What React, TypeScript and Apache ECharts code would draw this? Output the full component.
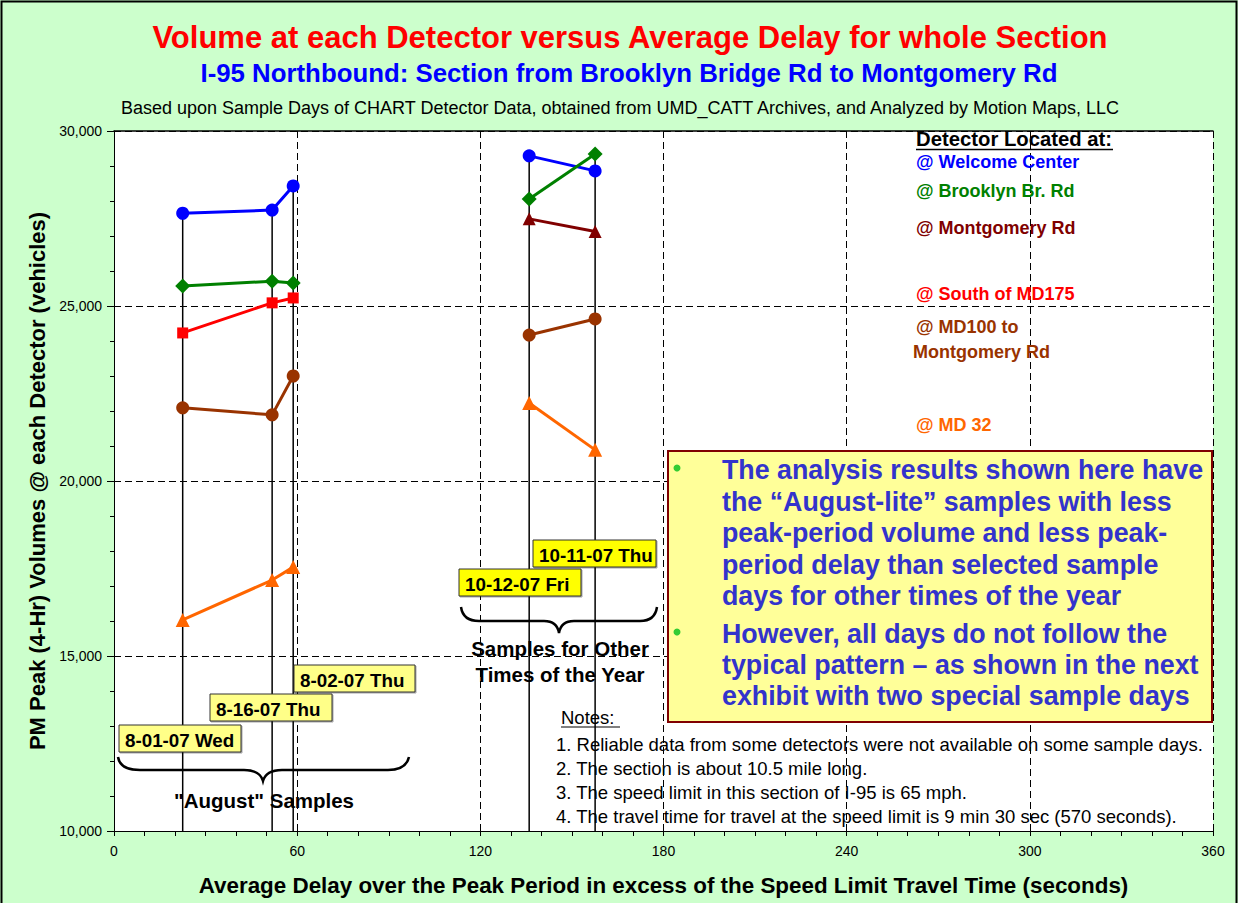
import React, { useEffect, useRef } from "react";
import * as echarts from "echarts";

const FONT = '"Liberation Sans", Arial, Helvetica, sans-serif';

// Sample days (x = average delay in seconds)
const sampleDays = ["8-01-07 Wed", "8-16-07 Thu", "8-02-07 Thu", "10-12-07 Fri", "10-11-07 Thu"];
const delays = [22.5, 51.8, 58.7, 136.0, 157.6];
const augustIdx = [0, 1, 2];
const otherIdx = [3, 4];

// Volumes at each detector (vehicles); null = not available
const welcomeCenter = [27650, 27740, 28430, 29290, 28860];
const brooklynBrRd = [25570, 25710, 25660, 28060, 29340];
const montgomeryRd = [null, null, null, 27490, 27130];
const southMD175 = [24230, 25090, 25230, null, null];
const md100ToMontgomery = [22090, 21890, 23000, 24170, 24630];
const md32 = [16030, 17170, 17540, 22230, 20890];

const xTicks = { min: 0, max: 360, interval: 60 };
const yTicks = { min: 10000, max: 30000, interval: 5000 };

const detectors = [
  { name: "@ Welcome Center", values: welcomeCenter, color: "#0000FF", symbol: "circle", size: 13 },
  { name: "@ Brooklyn Br. Rd", values: brooklynBrRd, color: "#008000", symbol: "diamond", size: 15 },
  { name: "@ Montgomery Rd", values: montgomeryRd, color: "#800000", symbol: "triangle", size: 13 },
  { name: "@ South of MD175", values: southMD175, color: "#FF0000", symbol: "rect", size: 11 },
  { name: "@ MD100 to Montgomery Rd", values: md100ToMontgomery, color: "#993300", symbol: "circle", size: 13 },
  { name: "@ MD 32", values: md32, color: "#FF6600", symbol: "triangle", size: 14 },
];

const legendLines = [
  { text: "@ Welcome Center", color: "#0000FF", x: 916, y: 162 },
  { text: "@ Brooklyn Br. Rd", color: "#008000", x: 916, y: 191 },
  { text: "@ Montgomery Rd", color: "#800000", x: 916, y: 228 },
  { text: "@ South of MD175", color: "#FF0000", x: 916, y: 294 },
  { text: "@ MD100 to", color: "#993300", x: 916, y: 327 },
  { text: "Montgomery Rd", color: "#993300", x: 913, y: 352 },
  { text: "@ MD 32", color: "#FF6600", x: 916, y: 425 },
];

const boxBullets = [
  ["The analysis results shown here have", "the \u201CAugust-lite\u201D samples with less", "peak-period volume and less peak-", "period delay than selected sample", "days for other times of the year"],
  ["However, all days do not follow the", "typical pattern \u2013 as shown in the next", "exhibit with two special sample days"],
];

const notes = [
  "1. Reliable data from some detectors were not available on some sample days.",
  "2. The section is about 10.5 mile long.",
  "3. The speed limit in this section of I-95 is 65 mph.",
  "4. The travel time for travel at the speed limit is 9 min 30 sec (570 seconds).",
];

const dateBoxes = [
  { label: sampleDays[0], x: 119, y: 725, w: 122, fill: "#FFFF88" },
  { label: sampleDays[1], x: 210, y: 694, w: 122, fill: "#FFFF88" },
  { label: sampleDays[2], x: 294, y: 665, w: 121, fill: "#FFFF88" },
  { label: sampleDays[3], x: 459, y: 569, w: 122, fill: "#FFFF00" },
  { label: sampleDays[4], x: 533, y: 540, w: 123, fill: "#FFFF00" },
];

let registered = false;
function registerShapes() {
  if (registered) return;
  registered = true;
  echarts.graphic.registerShape(
    "braceAug",
    echarts.graphic.extendPath("M118 757 Q120 770 140 770 L244 770 Q260 770 263 781 Q266 770 282 770 L388 770 Q406 770 409 757", {}) as any
  );
  echarts.graphic.registerShape(
    "braceOther",
    echarts.graphic.extendPath("M461 607 Q463 621 479 621 L544 621 Q557 621 559 633 Q561 621 574 621 L640 621 Q655 621 657 607", {}) as any
  );
}

function txt(text: string, x: number, y: number, size: number, color: string, bold: boolean, align = "left") {
  return {
    type: "text",
    x,
    y,
    z: 20,
    style: {
      text,
      fill: color,
      fontSize: size,
      fontWeight: bold ? "bold" : "normal",
      fontFamily: FONT,
      align,
      verticalAlign: "middle",
    },
  };
}

export default function App() {
  const ref = useRef<HTMLDivElement>(null);

  useEffect(() => {
    if (!ref.current) return;
    registerShapes();
    const chart = echarts.init(ref.current, null, { renderer: "svg" });

    const series: any[] = [];
    // vertical drop lines for each sample day
    delays.forEach((d, i) => {
      const vals = detectors.map((det) => det.values[i]).filter((v) => v != null) as number[];
      const top = Math.max(...vals);
      series.push({
        type: "line",
        name: sampleDays[i],
        data: [
          [d, top],
          [d, yTicks.min],
        ],
        symbol: "none",
        silent: true,
        lineStyle: { color: "#000", width: 1.5 },
        z: 1,
      });
    });

    detectors.forEach((det) => {
      [augustIdx, otherIdx].forEach((group) => {
        const data = group.filter((i) => det.values[i] != null).map((i) => [delays[i], det.values[i]]);
        if (!data.length) return;
        series.push({
          type: "line",
          name: det.name,
          data,
          symbol: det.symbol,
          symbolSize: det.size,
          itemStyle: { color: det.color },
          lineStyle: { color: det.color, width: 3 },
          z: 3,
        });
      });
    });

    const graphic: any[] = [
      {
        type: "rect",
        shape: { x: 1.5, y: 1.5, width: 1235, height: 905 },
        style: { fill: "none", stroke: "#000", lineWidth: 2 },
        z: 30,
      },
      txt("Volume at each Detector versus Average Delay for whole Section", 630, 37, 31, "#FF0000", true, "center"),
      txt("I-95 Northbound: Section from Brooklyn Bridge Rd to Montgomery Rd", 629, 73, 25.8, "#0000FF", true, "center"),
      txt("Based upon Sample Days of CHART Detector Data, obtained from UMD_CATT Archives, and Analyzed by Motion Maps, LLC", 620, 108, 18, "#000", false, "center"),
      txt("Detector Located at:", 916, 139, 20.3, "#000", true),
      { type: "line", shape: { x1: 916, y1: 149.5, x2: 1113, y2: 149.5 }, style: { stroke: "#000", lineWidth: 1.5 }, z: 20 },
      ...legendLines.map((l) => txt(l.text, l.x, l.y, 18, l.color, true)),
      // big yellow box
      {
        type: "rect",
        shape: { x: 668, y: 451, width: 544, height: 271 },
        style: { fill: "#FFFF99", stroke: "#800000", lineWidth: 2 },
        z: 15,
      },
    ];

    const lineYs = [[470, 502, 533, 565, 596], [634, 665, 696]];
    boxBullets.forEach((b, bi) => {
      graphic.push({ type: "circle", shape: { cx: 677, cy: lineYs[bi][0] - 2, r: 3.5 }, style: { fill: "#33CC33" }, z: 20 });
      b.forEach((line, li) => graphic.push(txt(line, 722, lineYs[bi][li], 26.8, "#3333CC", true)));
    });

    graphic.push(txt("Notes:", 561, 717, 18.5, "#000", false));
    graphic.push({ type: "line", shape: { x1: 561, y1: 727, x2: 620, y2: 727 }, style: { stroke: "#000", lineWidth: 1 }, z: 20 });
    notes.forEach((n, i) => graphic.push(txt(n, 556, 744 + i * 24, 18.5, "#000", false)));

    dateBoxes.forEach((b) => {
      graphic.push({
        type: "rect",
        shape: { x: b.x, y: b.y, width: b.w, height: 27 },
        style: { fill: b.fill, stroke: "#333", lineWidth: 1, shadowColor: "rgba(0,0,0,0.35)", shadowOffsetX: 1, shadowOffsetY: 1, shadowBlur: 1 },
        z: 18,
      });
      graphic.push(txt(b.label, b.x + 6, b.y + 15, 18.8, "#000", true));
    });

    graphic.push({ type: "braceAug", x: 0, y: 0, style: { fill: "none", stroke: "#000", lineWidth: 2.5 }, z: 20 });
    graphic.push({ type: "braceOther", x: 0, y: 0, style: { fill: "none", stroke: "#000", lineWidth: 2.5 }, z: 20 });
    graphic.push(txt('"August" Samples', 264, 800, 20.5, "#000", true, "center"));
    graphic.push(txt("Samples for Other", 560, 648, 20.5, "#000", true, "center"));
    graphic.push(txt("Times of the Year", 560, 674, 20.5, "#000", true, "center"));

    chart.setOption({
      animation: false,
      backgroundColor: "#CCFFCC",
      textStyle: { fontFamily: FONT },
      grid: { left: 114, right: 25, top: 131, bottom: 72, show: true, backgroundColor: "#FFFFFF", borderWidth: 0 },
      xAxis: [
        {
          type: "value",
          min: xTicks.min,
          max: xTicks.max,
          interval: xTicks.interval,
          position: "bottom",
          axisLine: { show: true, lineStyle: { color: "#000", width: 1 } },
          axisTick: { show: true, length: 5, lineStyle: { color: "#000" } },
          minorTick: { show: true, splitNumber: 6, length: 5, lineStyle: { color: "#000" } },
          axisLabel: { color: "#000", fontSize: 14, fontFamily: FONT, margin: 13 },
          splitLine: { show: true, lineStyle: { color: "#000", type: [7, 4], width: 1 } },
          name: "Average Delay over the Peak Period in excess of the Speed Limit Travel Time (seconds)",
          nameLocation: "middle",
          nameGap: 54,
          nameTextStyle: { color: "#000", fontSize: 22.4, fontWeight: "bold", fontFamily: FONT, verticalAlign: "middle" },
        },
        {
          type: "value",
          min: xTicks.min,
          max: xTicks.max,
          position: "top",
          axisLine: { show: true, lineStyle: { color: "#000", width: 1.5 } },
          axisTick: { show: false },
          axisLabel: { show: false },
          splitLine: { show: false },
        },
      ],
      yAxis: {
        type: "value",
        min: yTicks.min,
        max: yTicks.max,
        interval: yTicks.interval,
        axisLine: { show: true, lineStyle: { color: "#000", width: 1 } },
        axisTick: { show: true, length: 7, lineStyle: { color: "#000" } },
        minorTick: { show: true, splitNumber: 5, length: 4, lineStyle: { color: "#000" } },
        axisLabel: {
          color: "#000",
          fontSize: 14,
          fontFamily: FONT,
          margin: 12,
          formatter: (v: number) => v.toLocaleString("en-US"),
        },
        splitLine: { show: true, lineStyle: { color: "#000", type: [7, 4], width: 1 } },
        name: "PM Peak (4-Hr) Volumes @ each Detector (vehicles)",
        nameLocation: "middle",
        nameGap: 76,
        nameTextStyle: { color: "#000", fontSize: 22, fontWeight: "bold", fontFamily: FONT, verticalAlign: "middle" },
      },
      series,
      graphic,
    });

    return () => chart.dispose();
  }, []);

  return <div ref={ref} style={{ position: "absolute", left: 0, top: 0, width: 1238, height: 903 }} />;
}
